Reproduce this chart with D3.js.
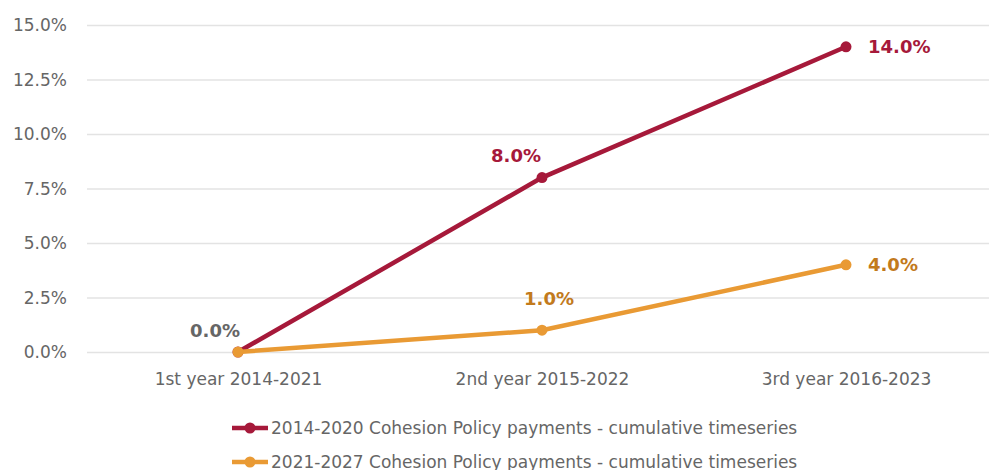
<!DOCTYPE html>
<html><head><meta charset="utf-8">
<script src="https://cdn.jsdelivr.net/npm/d3@7"></script>
<style>body{margin:0;background:#fff;overflow:hidden}text{font-family:"DejaVu Sans",sans-serif}</style>
</head><body><svg id="c" width="989" height="470"></svg>
<script>
const categories = ["1st year 2014-2021", "2nd year 2015-2022", "3rd year 2016-2023"];
const seriesNames = ["2014-2020 Cohesion Policy payments - cumulative timeseries", "2021-2027 Cohesion Policy payments - cumulative timeseries"];
const series2014 = [0.0, 8.0, 14.0];
const series2021 = [0.0, 1.0, 4.0];
const yTicks = [0, 2.5, 5, 7.5, 10, 12.5, 15];
const labelPlace2014 = ["none", "aboveLeft", "right"];
const labelPlace2021 = ["aboveLeftGray", "above", "right"];

const colors = ["#a6193a", "#e99a34"];
const labelColors = ["#a6193a", "#c27a1c"];

const svg = d3.select("#c");
const x = d3.scalePoint().domain(categories).range([238, 846]);
const y = d3.scaleLinear().domain([0, 15]).range([352, 25]);

const yAxis = svg.append("g").attr("transform", "translate(87,0)")
  .call(d3.axisLeft(y).tickValues(yTicks).tickSize(-910).tickFormat(d => d.toFixed(1) + "%"));
yAxis.select(".domain").remove();
yAxis.selectAll(".tick line").attr("stroke", "#e3e3e3").attr("stroke-width", 1.5);
yAxis.selectAll(".tick text").attr("x", -20).attr("fill", "#666").attr("font-size", 17).attr("dy", "0.35em");

const xAxis = svg.append("g").attr("transform", "translate(0,352)")
  .call(d3.axisBottom(x).tickSize(0));
xAxis.select(".domain").remove();
xAxis.selectAll(".tick text").attr("y", 27).attr("dy", "0.35em").attr("fill", "#666").attr("font-size", 17);

const line = d3.line().x((d, i) => x(categories[i])).y(d => y(d));
const all = [series2014, series2021];
const places = [labelPlace2014, labelPlace2021];

all.forEach((s, k) => {
  svg.append("path").datum(s).attr("d", line).attr("fill", "none")
    .attr("stroke", colors[k]).attr("stroke-width", 4.5);
  svg.selectAll(null).data(s).enter().append("circle")
    .attr("cx", (d, i) => x(categories[i])).attr("cy", d => y(d)).attr("r", 5.5)
    .attr("fill", colors[k]);
});

all.forEach((s, k) => {
  s.forEach((v, i) => {
    const p = places[k][i];
    if (p === "none") return;
    const px = x(categories[i]), py = y(v);
    let tx = px, ty = py, anchor = "middle", col = labelColors[k];
    if (p === "aboveLeft") { tx = px - 26; ty = py - 22; }
    if (p === "aboveLeftGray") { tx = px - 23; ty = py - 21; col = "#666"; }
    if (p === "above") { tx = px + 7; ty = py - 32; }
    if (p === "right") { tx = px + 22; anchor = "start"; }
    svg.append("text").attr("x", tx).attr("y", ty).attr("dy", "0.35em")
      .attr("text-anchor", anchor).attr("font-weight", "bold").attr("font-size", 18)
      .attr("fill", col).text(v.toFixed(1) + "%");
  });
});

seriesNames.forEach((n, k) => {
  const ly = 428 + k * 34;
  const g = svg.append("g");
  g.append("line").attr("x1", 232).attr("x2", 268).attr("y1", ly).attr("y2", ly)
    .attr("stroke", colors[k]).attr("stroke-width", 4.5);
  g.append("circle").attr("cx", 250).attr("cy", ly).attr("r", 5.5).attr("fill", colors[k]);
  g.append("text").attr("x", 271).attr("y", ly).attr("dy", "0.35em").attr("fill", "#666")
    .attr("font-size", 17).text(n);
});
</script></body></html>
